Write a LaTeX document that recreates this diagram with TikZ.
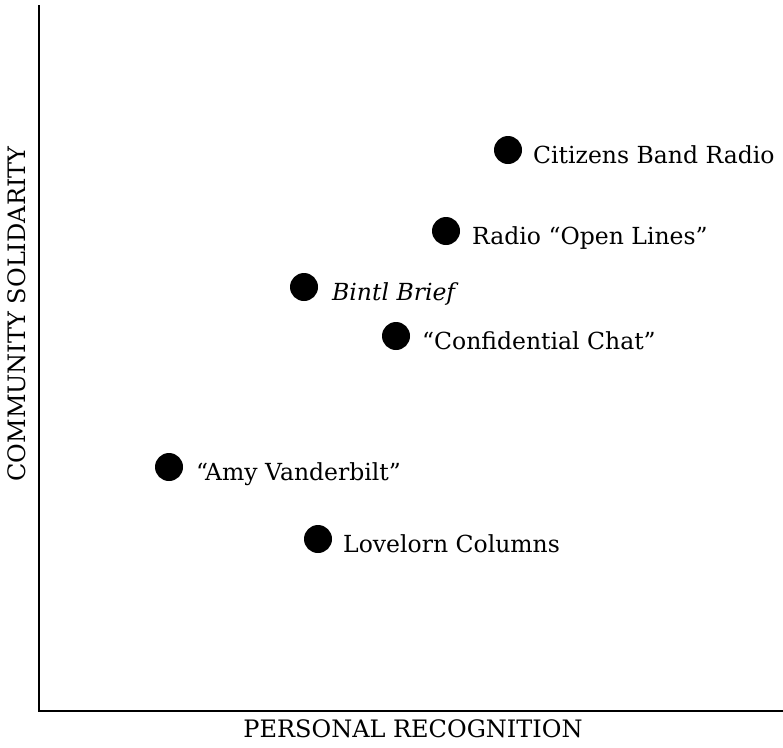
\documentclass[tikz,border=0pt]{standalone}
\usepackage{fontspec}
\setmainfont{DejaVu Serif}
\usepackage{tikz}

\tikzset{
  dot/.style={circle, fill=black, minimum size=28pt, inner sep=0pt},
  lbl/.style={anchor=base west, inner sep=0pt, font=\fontsize{23.5}{26}\selectfont},
  axlbl/.style={inner sep=0pt, font=\fontsize{24}{27}\selectfont}
}

\begin{document}
\begin{tikzpicture}[x=1pt, y=-1pt]
  \useasboundingbox (0,0) rectangle (783,747);
  % axes
  \coordinate (top) at (38.5,5);
  \coordinate (origin) at (38.5,711);
  \coordinate (right) at (783,711);
  \draw[line width=2pt] (top) -- (origin) -- (right);
  \node[axlbl, anchor=base] (xlab) at (413,737) {PERSONAL RECOGNITION};
  \node[axlbl, anchor=base, rotate=90] (ylab) at (25,314) {COMMUNITY SOLIDARITY};
  % points
  \node[dot] (cb) at (508,150) {};
  \node[dot] (rol) at (446,231) {};
  \node[dot] (bb) at (304,287) {};
  \node[dot] (cc) at (396,336) {};
  \node[dot] (av) at (169,467) {};
  \node[dot] (lc) at (318,539) {};
  \node[lbl] (cbt) at ([xshift=25pt,yshift=-13pt]cb.center) {Citizens Band Radio};
  \node[lbl] (rolt) at ([xshift=26pt,yshift=-13pt]rol.center) {Radio ``Open Lines''};
  \node[lbl] (bbt) at ([xshift=28pt,yshift=-13pt]bb.center) {\itshape Bintl Brief};
  \node[lbl] (cct) at ([xshift=26pt,yshift=-13pt]cc.center) {``Confidential Chat''};
  \node[lbl] (avt) at ([xshift=27pt,yshift=-13pt]av.center) {``Amy Vanderbilt''};
  \node[lbl] (lct) at ([xshift=25pt,yshift=-13pt]lc.center) {Lovelorn Columns};
\end{tikzpicture}
\end{document}
